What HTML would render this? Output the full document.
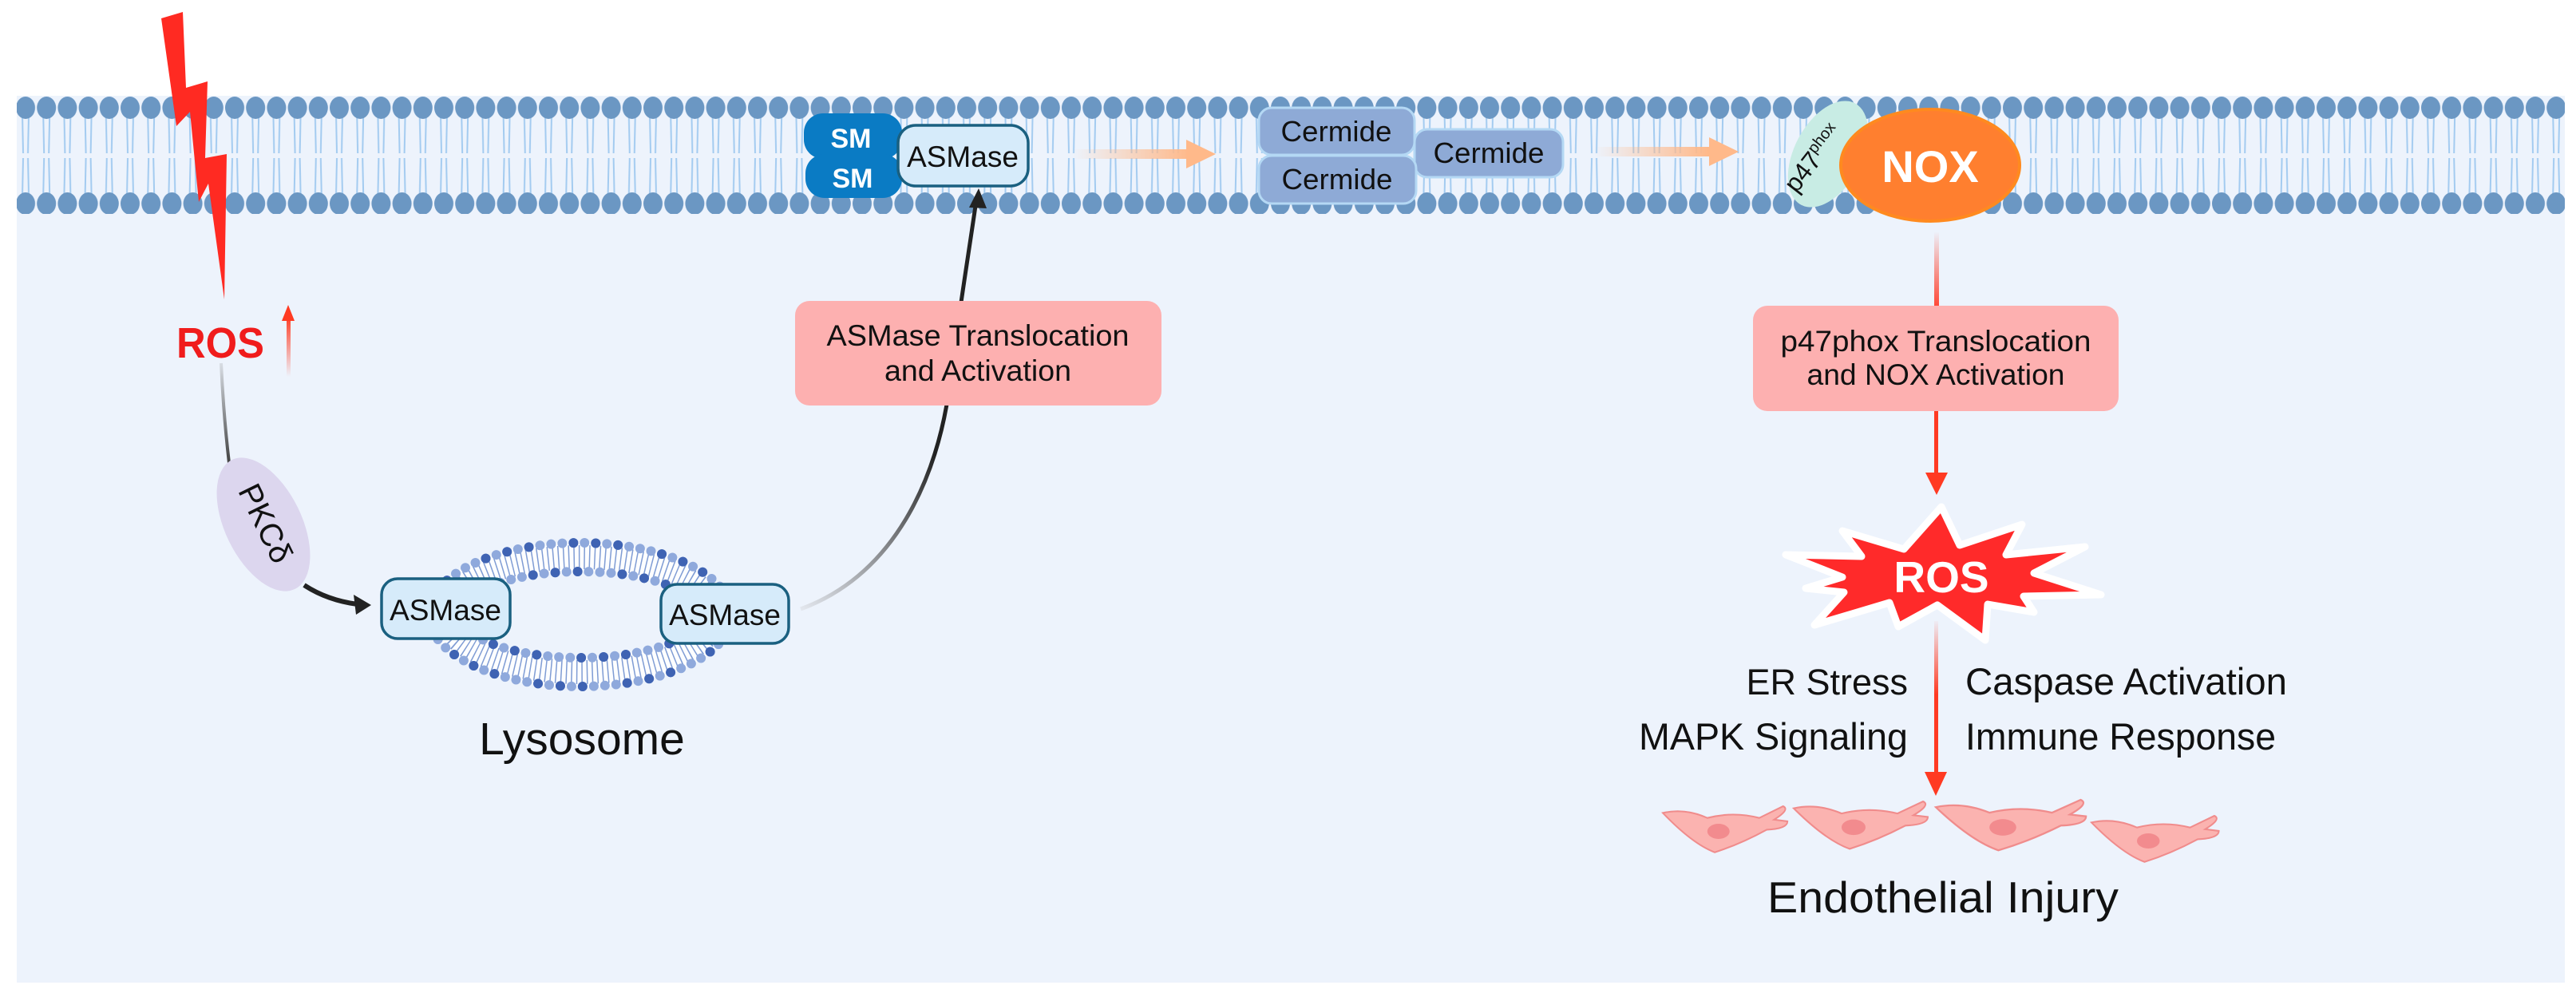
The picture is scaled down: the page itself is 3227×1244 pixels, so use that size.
<!DOCTYPE html>
<html><head><meta charset="utf-8"><style>
html,body{margin:0;padding:0;background:#fff;}
svg{display:block;}
text{font-family:"Liberation Sans",Arial,sans-serif;}
</style></head><body>
<svg width="3227" height="1244" viewBox="0 0 3227 1244" xmlns="http://www.w3.org/2000/svg">
<defs>
<pattern id="lip" patternUnits="userSpaceOnUse" x="19" y="120" width="26.2" height="148">
  <g stroke="#a3cbf0" stroke-width="2" fill="none">
    <path d="M9,24 L10,72 M17,24 L16,72"/>
    <path d="M9,124 L10,78 M17,124 L16,78"/>
  </g>
  <ellipse cx="13" cy="15" rx="12" ry="14" fill="#6b97c3"/>
  <ellipse cx="13" cy="135" rx="12" ry="14" fill="#6b97c3"/>
</pattern>
<linearGradient id="gGray" x1="0" y1="455" x2="0" y2="578" gradientUnits="userSpaceOnUse"><stop offset="0" stop-color="#d8dde4"/><stop offset="1" stop-color="#444"/></linearGradient>
<linearGradient id="gBlk" x1="1003" y1="763" x2="1160" y2="560" gradientUnits="userSpaceOnUse"><stop offset="0" stop-color="#e3e7ee"/><stop offset="1" stop-color="#222"/></linearGradient>
<linearGradient id="gRedUp" x1="0" y1="395" x2="0" y2="472" gradientUnits="userSpaceOnUse"><stop offset="0" stop-color="#ff3a22"/><stop offset="1" stop-color="#ff3a22" stop-opacity="0"/></linearGradient>
<linearGradient id="gRedDn1" x1="0" y1="290" x2="0" y2="383" gradientUnits="userSpaceOnUse"><stop offset="0" stop-color="#ff3a22" stop-opacity="0"/><stop offset="1" stop-color="#ff4a3a"/></linearGradient>
<linearGradient id="gRedDn2" x1="0" y1="775" x2="0" y2="870" gradientUnits="userSpaceOnUse"><stop offset="0" stop-color="#ff3a22" stop-opacity="0"/><stop offset="1" stop-color="#ff3a22"/></linearGradient>
<linearGradient id="gOr1" x1="1344" y1="0" x2="1490" y2="0" gradientUnits="userSpaceOnUse"><stop offset="0" stop-color="#ffb98a" stop-opacity="0"/><stop offset="1" stop-color="#ffb98a"/></linearGradient>
<linearGradient id="gOr2" x1="1997" y1="0" x2="2140" y2="0" gradientUnits="userSpaceOnUse"><stop offset="0" stop-color="#ffb98a" stop-opacity="0"/><stop offset="1" stop-color="#ffb98a"/></linearGradient>
<g id="cell">
  <path d="M0,8 Q30,2 60,14 Q95,6 130,14 L162,0 Q172,4 150,16 L168,18 Q168,27 140,28 Q105,45 70,55 Q40,45 0,8 Z" fill="#fbb3b0" stroke="#f08c8c" stroke-width="2"/>
  <ellipse cx="75" cy="30" rx="15" ry="9" fill="#f28b8e"/>
</g>
</defs>

<rect x="21" y="120" width="3192" height="1111" fill="#edf3fc"/>
<rect x="21" y="120" width="3192" height="148" fill="url(#lip)"/>

<polygon points="202,23 229,15 233,110 260,102 257,198 284,193 281,375 261,230 249,253 238,140 221,158" fill="#ff2a22"/>

<text x="221" y="448" font-size="54" font-weight="bold" fill="#f01c1c" textLength="110" lengthAdjust="spacingAndGlyphs">ROS</text>
<rect x="359" y="398" width="5" height="74" fill="url(#gRedUp)"/>
<polygon points="361,382 353,402 369,402" fill="#ff3a22"/>

<path d="M277,455 Q280,520 287,580" stroke="url(#gGray)" stroke-width="4" fill="none"/>

<ellipse cx="330" cy="657" rx="48" ry="90" transform="rotate(-26 330 657)" fill="#dcd6ee"/>
<text x="330" y="657" font-size="40" text-anchor="middle" dominant-baseline="middle" transform="rotate(64 330 657)" fill="#111">PKCδ</text>
<path d="M381,733 Q410,752 448,757" stroke="#222" stroke-width="6" fill="none"/>
<polygon points="465,758 443,745 446,770" fill="#222"/>

<ellipse cx="727" cy="770" rx="170" ry="72" fill="none" stroke="#fff" stroke-width="38" opacity="0.85"/>
<ellipse cx="727" cy="770" rx="170" ry="72" fill="none" stroke="#7f9cd4" stroke-width="30" stroke-dasharray="1.5 5"/>
<ellipse cx="727" cy="770" rx="190" ry="90" fill="none" stroke="#8fa9dc" stroke-width="12" stroke-linecap="round" stroke-dasharray="0 14"/>
<ellipse cx="727" cy="770" rx="190" ry="90" fill="none" stroke="#3f63b3" stroke-width="12" stroke-linecap="round" stroke-dasharray="0 28 0 28 0 56"/>
<ellipse cx="727" cy="770" rx="150" ry="54" fill="none" stroke="#8fa9dc" stroke-width="12" stroke-linecap="round" stroke-dasharray="0 14"/>
<ellipse cx="727" cy="770" rx="150" ry="54" fill="none" stroke="#3f63b3" stroke-width="12" stroke-linecap="round" stroke-dasharray="0 28 0 28 0 56"/>
<rect x="478" y="725" width="161" height="75" rx="20" fill="#d6ebfa" stroke="#1a6080" stroke-width="3.5"/>
<text x="558" y="777" font-size="37" text-anchor="middle" fill="#111">ASMase</text>
<rect x="828" y="732" width="160" height="74" rx="20" fill="#d6ebfa" stroke="#1a6080" stroke-width="3.5"/>
<text x="908" y="783" font-size="37" text-anchor="middle" fill="#111">ASMase</text>
<text x="729" y="945" font-size="57" text-anchor="middle" fill="#111">Lysosome</text>

<path d="M1003,763 C1120,720 1175,600 1190,480 C1200,400 1213,320 1222,258" stroke="url(#gBlk)" stroke-width="5" fill="none"/>
<polygon points="1226,236 1214,260 1236,261" fill="#222"/>

<rect x="996" y="377" width="459" height="131" rx="18" fill="#fdb0b0"/>
<text x="1225" y="433" font-size="37" text-anchor="middle" fill="#111" textLength="379" lengthAdjust="spacingAndGlyphs">ASMase Translocation</text>
<text x="1225" y="477" font-size="37" text-anchor="middle" fill="#111" textLength="234" lengthAdjust="spacingAndGlyphs">and Activation</text>

<rect x="1007" y="142" width="123" height="57" rx="24" fill="#0a7bc4"/>
<rect x="1009" y="193" width="121" height="55" rx="24" fill="#0a7bc4"/>
<text x="1066" y="185" font-size="34" font-weight="bold" text-anchor="middle" fill="#fff">SM</text>
<text x="1068" y="235" font-size="34" font-weight="bold" text-anchor="middle" fill="#fff">SM</text>
<rect x="1125" y="157" width="163" height="76" rx="22" fill="#d6ebfa" stroke="#1a6080" stroke-width="3.5"/>
<text x="1206" y="209" font-size="37" text-anchor="middle" fill="#111">ASMase</text>

<rect x="1344" y="187" width="145" height="12" fill="url(#gOr1)"/>
<polygon points="1523,193 1486,175 1486,211" fill="#ffb98a"/>

<rect x="1772" y="162" width="186" height="60" rx="16" fill="#8eaad6" stroke="#b4d8f4" stroke-width="3"/>
<text x="1865" y="204" font-size="36" text-anchor="middle" fill="#111" textLength="139" lengthAdjust="spacingAndGlyphs">Cermide</text>
<rect x="1577" y="135" width="195" height="59" rx="16" fill="#8eaad6" stroke="#b4d8f4" stroke-width="3"/>
<text x="1674" y="177" font-size="36" text-anchor="middle" fill="#111" textLength="139" lengthAdjust="spacingAndGlyphs">Cermide</text>
<rect x="1577" y="195" width="197" height="60" rx="16" fill="#8eaad6" stroke="#b4d8f4" stroke-width="3"/>
<text x="1675" y="237" font-size="36" text-anchor="middle" fill="#111" textLength="139" lengthAdjust="spacingAndGlyphs">Cermide</text>

<rect x="1997" y="184" width="145" height="12" fill="url(#gOr2)"/>
<polygon points="2178,190 2141,172 2141,208" fill="#ffb98a"/>

<ellipse cx="2290" cy="193" rx="42" ry="72" transform="rotate(28 2290 193)" fill="#c8ece4"/>
<text x="2280" y="205" font-size="32" fill="#111" transform="rotate(-52 2280 205)" text-anchor="middle">p47<tspan font-size="20" dy="-12">phox</tspan></text>
<ellipse cx="2418" cy="207" rx="112" ry="70" fill="#ff7f2f" stroke="#ff8a1f" stroke-width="4"/>
<text x="2418" y="228" font-size="56" font-weight="bold" text-anchor="middle" fill="#fff">NOX</text>

<rect x="2423" y="290" width="6" height="93" fill="url(#gRedDn1)"/>
<rect x="2196" y="383" width="458" height="132" rx="18" fill="#fdb0b0"/>
<text x="2425" y="440" font-size="37" text-anchor="middle" fill="#111" textLength="389" lengthAdjust="spacingAndGlyphs">p47phox Translocation</text>
<text x="2425" y="482" font-size="37" text-anchor="middle" fill="#111" textLength="323" lengthAdjust="spacingAndGlyphs">and NOX Activation</text>
<rect x="2423" y="515" width="5" height="80" fill="#ff3a22"/>
<polygon points="2426,620 2412,592 2440,592" fill="#ff3a22"/>

<polygon points="2432,635 2455,683 2533,657 2513,695 2612,685 2548,718 2632,745 2535,747 2548,767 2490,757 2487,802 2427,758 2378,785 2367,755 2273,783 2310,742 2262,737 2308,723 2237,695 2332,697 2308,665 2385,688" fill="#ff2a2a" stroke="#fff" stroke-width="9" stroke-linejoin="round"/>
<text x="2432" y="742" font-size="55" font-weight="bold" text-anchor="middle" fill="#fff">ROS</text>

<rect x="2423" y="778" width="5" height="190" fill="url(#gRedDn2)"/>
<polygon points="2425,997 2411,967 2439,967" fill="#ff3a22"/>

<text x="2390" y="870" font-size="45" text-anchor="end" fill="#111">ER Stress</text>
<text x="2390" y="939" font-size="47" text-anchor="end" fill="#111" textLength="337" lengthAdjust="spacingAndGlyphs">MAPK Signaling</text>
<text x="2462" y="870" font-size="47" fill="#111" textLength="403" lengthAdjust="spacingAndGlyphs">Caspase Activation</text>
<text x="2462" y="939" font-size="47" fill="#111" textLength="389" lengthAdjust="spacingAndGlyphs">Immune Response</text>

<use href="#cell" transform="translate(2083,1010) scale(0.93,1.05)"/>
<use href="#cell" transform="translate(2247,1004) scale(1.0,1.08)"/>
<use href="#cell" transform="translate(2425,1002) scale(1.12,1.15)"/>
<use href="#cell" transform="translate(2620,1022) scale(0.95,1.05)"/>

<text x="2434" y="1143" font-size="55" text-anchor="middle" fill="#111" textLength="440" lengthAdjust="spacingAndGlyphs">Endothelial Injury</text>
</svg>
</body></html>
